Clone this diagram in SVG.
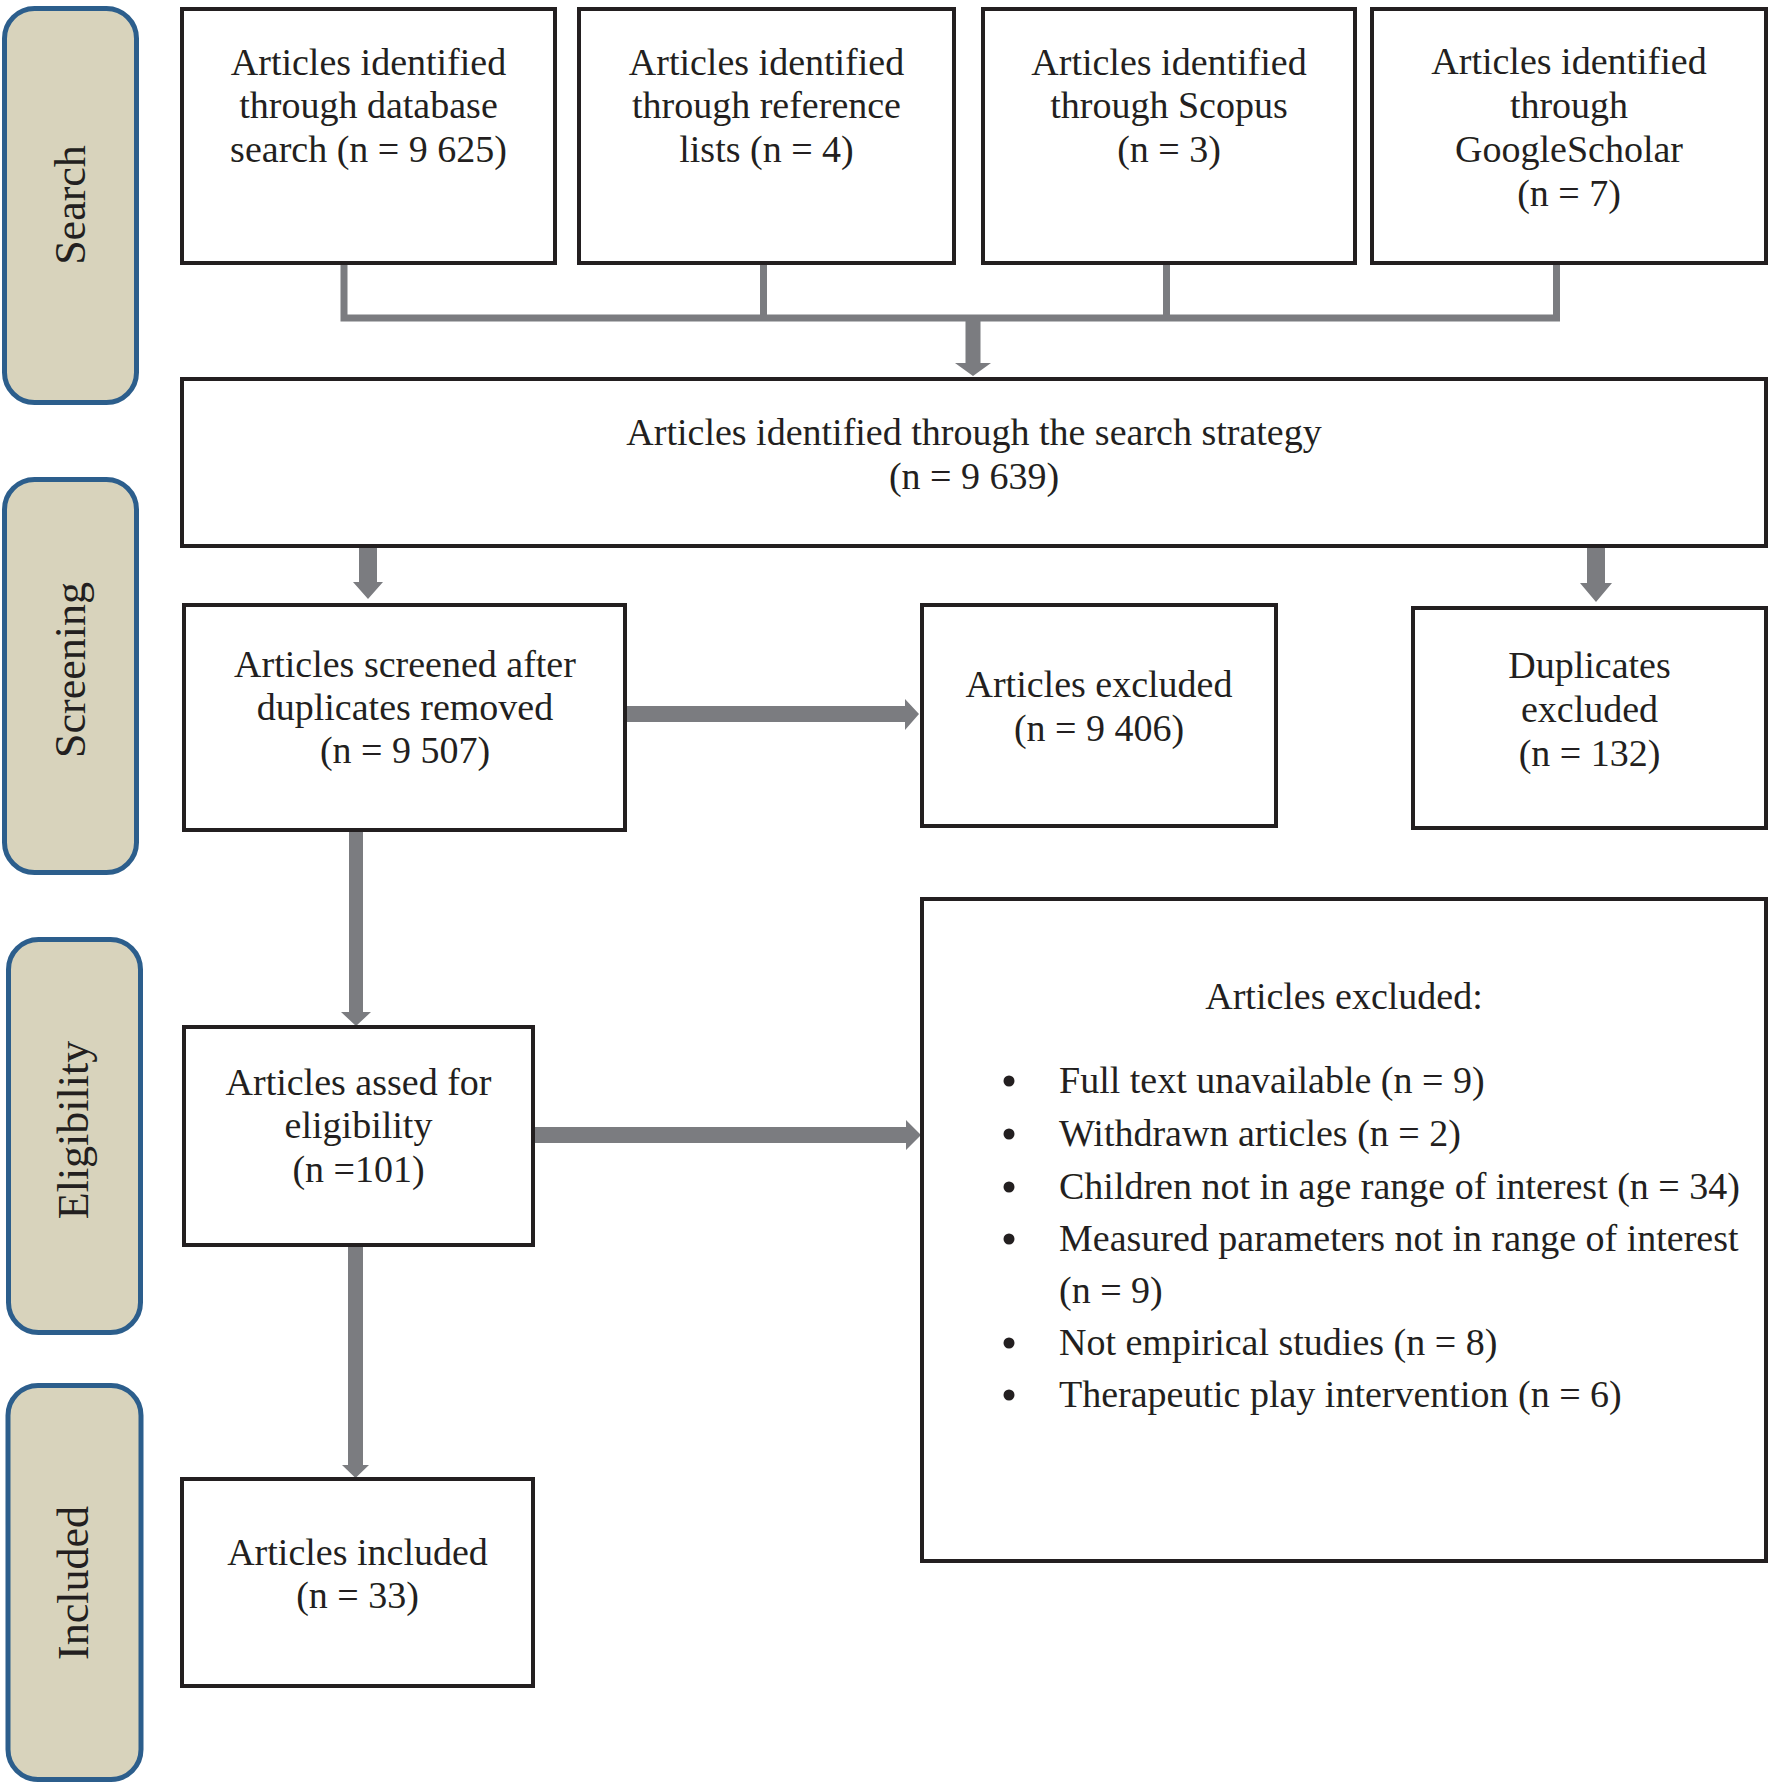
<svg xmlns="http://www.w3.org/2000/svg" width="1775" height="1787" viewBox="0 0 1775 1787">
<style>
  .phase { fill: #d8d3bc; stroke: #2c5e8c; stroke-width: 5; }
  .phase-t { font-family: "Liberation Serif", "Times New Roman", serif; font-size: 44px; fill: #231f20; text-anchor: middle; }
  .box { fill: #ffffff; stroke: #231f20; stroke-width: 4; }
  .t { font-family: "Liberation Serif", "Times New Roman", serif; font-size: 38px; fill: #231f20; text-anchor: middle; }
  .tl { font-family: "Liberation Serif", "Times New Roman", serif; font-size: 38px; fill: #231f20; }
  .line { fill: none; stroke: #7b7c80; stroke-width: 7; }
  .arrow { fill: #7b7c80; stroke: none; }
  .bullet { fill: #231f20; }
</style>
<rect width="1775" height="1787" fill="#ffffff"/>

<g id="phase-search">
  <rect class="phase" x="4.5" y="8.5" width="132" height="394" rx="30"/>
  <text class="phase-t" transform="translate(85 205) rotate(-90)">Search</text>
</g>
<g id="phase-screening">
  <rect class="phase" x="4.5" y="479.5" width="132" height="393" rx="30"/>
  <text class="phase-t" transform="translate(85 670) rotate(-90)">Screening</text>
</g>
<g id="phase-eligibility">
  <rect class="phase" x="8.5" y="939.5" width="132" height="393" rx="30"/>
  <text class="phase-t" transform="translate(88 1130) rotate(-90)">Eligibility</text>
</g>
<g id="phase-included">
  <rect class="phase" x="8" y="1385.5" width="133" height="394" rx="30"/>
  <text class="phase-t" transform="translate(88 1583) rotate(-90)">Included</text>
</g>

<g id="connectors">
  <path class="line" d="M344 263 V318 H1556.5 V263"/>
  <path class="line" d="M763.5 263 V318"/>
  <path class="line" d="M1166.5 263 V318"/>
  <polygon class="arrow" points="965.5,318 980.5,318 980.5,363 991,363 973,376 955,363 965.5,363"/>
  <polygon class="arrow" points="359,548 377,548 377,582 383,582 368,599 353,582 359,582"/>
  <polygon class="arrow" points="1587,548 1605,548 1605,583 1612,583 1596,602 1580,583 1587,583"/>
  <polygon class="arrow" points="627,706 905,706 905,699 919,714 905,730 905,722 627,722"/>
  <polygon class="arrow" points="349,832 363,832 363,1012 371,1012 356,1026 341,1012 349,1012"/>
  <polygon class="arrow" points="535,1127 906,1127 906,1120 921,1135 906,1150 906,1143 535,1143"/>
  <polygon class="arrow" points="348,1247 363,1247 363,1465 369,1465 355.5,1478 342,1465 348,1465"/>
</g>

<g id="node-database">
  <rect class="box" x="182" y="9" width="373" height="254"/>
  <text class="t" x="368.5" y="75">Articles identified</text>
  <text class="t" x="368.5" y="118">through database</text>
  <text class="t" x="368.5" y="162">search (n = 9 625)</text>
</g>
<g id="node-reference">
  <rect class="box" x="579" y="9" width="375" height="254"/>
  <text class="t" x="766.5" y="75">Articles identified</text>
  <text class="t" x="766.5" y="118">through reference</text>
  <text class="t" x="766.5" y="162">lists (n = 4)</text>
</g>
<g id="node-scopus">
  <rect class="box" x="983" y="9" width="372" height="254"/>
  <text class="t" x="1169" y="75">Articles identified</text>
  <text class="t" x="1169" y="118">through Scopus</text>
  <text class="t" x="1169" y="162">(n = 3)</text>
</g>
<g id="node-scholar">
  <rect class="box" x="1372" y="9" width="394" height="254"/>
  <text class="t" x="1569" y="74">Articles identified</text>
  <text class="t" x="1569" y="118">through</text>
  <text class="t" x="1569" y="162">GoogleScholar</text>
  <text class="t" x="1569" y="206">(n = 7)</text>
</g>
<g id="node-strategy">
  <rect class="box" x="182" y="379" width="1584" height="167"/>
  <text class="t" x="974" y="445">Articles identified through the search strategy</text>
  <text class="t" x="974" y="489">(n = 9 639)</text>
</g>
<g id="node-screened">
  <rect class="box" x="184" y="605" width="441" height="225"/>
  <text class="t" x="405" y="677">Articles screened after</text>
  <text class="t" x="405" y="720">duplicates removed</text>
  <text class="t" x="405" y="763">(n = 9 507)</text>
</g>
<g id="node-excluded">
  <rect class="box" x="922" y="605" width="354" height="221"/>
  <text class="t" x="1099" y="697">Articles excluded</text>
  <text class="t" x="1099" y="741">(n = 9 406)</text>
</g>
<g id="node-duplicates">
  <rect class="box" x="1413" y="608" width="353" height="220"/>
  <text class="t" x="1589.5" y="678">Duplicates</text>
  <text class="t" x="1589.5" y="722">excluded</text>
  <text class="t" x="1589.5" y="766">(n = 132)</text>
</g>
<g id="node-assessed">
  <rect class="box" x="184" y="1027" width="349" height="218"/>
  <text class="t" x="358.5" y="1095">Articles assed for</text>
  <text class="t" x="358.5" y="1138">eligibility</text>
  <text class="t" x="358.5" y="1182">(n =101)</text>
</g>
<g id="node-included">
  <rect class="box" x="182" y="1479" width="351" height="207"/>
  <text class="t" x="357.5" y="1565">Articles included</text>
  <text class="t" x="357.5" y="1608">(n = 33)</text>
</g>
<g id="node-excluded-reasons">
  <rect class="box" x="922" y="899" width="844" height="662"/>
  <text class="t" x="1344" y="1009">Articles excluded:</text>
  <circle class="bullet" cx="1009" cy="1081" r="5.5"/>
  <text class="tl" x="1059" y="1093">Full text unavailable (n = 9)</text>
  <circle class="bullet" cx="1009" cy="1134" r="5.5"/>
  <text class="tl" x="1059" y="1146">Withdrawn articles (n = 2)</text>
  <circle class="bullet" cx="1009" cy="1187" r="5.5"/>
  <text class="tl" x="1059" y="1199">Children not in age range of interest (n = 34)</text>
  <circle class="bullet" cx="1009" cy="1239" r="5.5"/>
  <text class="tl" x="1059" y="1251">Measured parameters not in range of interest</text>
  <text class="tl" x="1059" y="1303">(n = 9)</text>
  <circle class="bullet" cx="1009" cy="1343" r="5.5"/>
  <text class="tl" x="1059" y="1355">Not empirical studies (n = 8)</text>
  <circle class="bullet" cx="1009" cy="1395" r="5.5"/>
  <text class="tl" x="1059" y="1407">Therapeutic play intervention (n = 6)</text>
</g>
</svg>
